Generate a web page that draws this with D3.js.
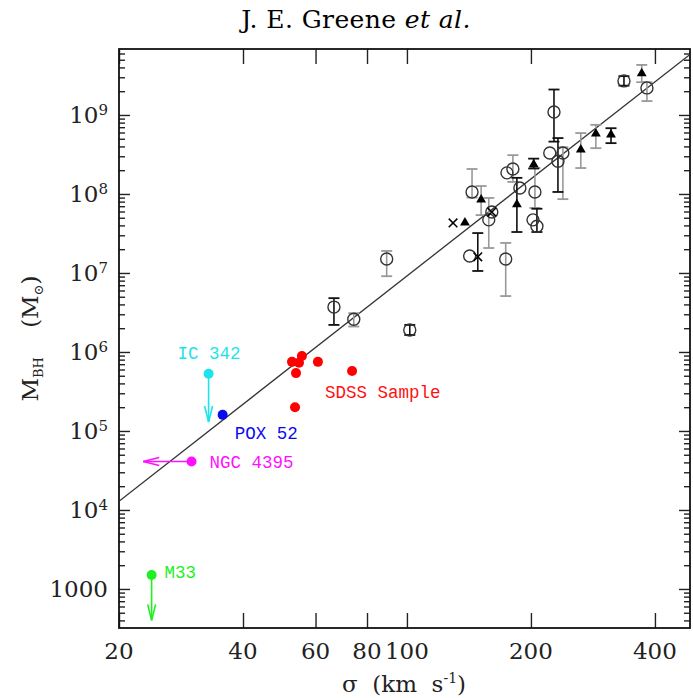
<!DOCTYPE html>
<html>
<head>
<meta charset="utf-8">
<title>M-sigma</title>
<script src="https://d3js.org/d3.v7.min.js"></script>
<style>
  body { margin: 0; background: #fff; }
  text { font-family: "DejaVu Serif", serif; }
  .lab { font-family: "Liberation Mono", monospace; font-size: 17.5px; }
</style>
</head>
<body>
<script>
// ---- data ----
// open circles
var openSigma = [66.5, 74.3, 89.3, 101.6, 142, 173.7, 158, 160.7, 143.9, 174.9, 180.8, 188, 204.5, 202.3, 206.8, 227.5, 222.2, 239.1, 232.6, 336.4, 382.5];
var openMass  = [3.7e6, 2.6e6, 1.5e7, 1.9e6, 1.64e7, 1.5e7, 4.7e7, 5.9e7, 1.06e8, 1.85e8, 2.07e8, 1.19e8, 1.06e8, 4.7e7, 3.9e7, 1.09e9, 3.3e8, 3.3e8, 2.6e8, 2.7e9, 2.2e9];
var openLo    = [2.2e6, 2.1e6, 9.1e6, 1.64e6, null, 5.1e6, 2.07e7, null, 9.0e7, null, 1.42e8, null, 6.65e7, null, 3.3e7, 4.6e8, null, 8.6e7, 1.06e8, 2.35e9, 1.5e9];
var openHi    = [4.8e6, 3.1e6, 1.9e7, 2.2e6, null, 2.4e7, 8.9e7, null, 2.07e8, null, 3.1e8, null, 2.13e8, null, 6.5e7, 2.1e9, null, 3.9e8, 5.1e8, 3.1e9, 2.6e9];
var openSrc   = ["a","b","b","a",null,"b","b",null,"b",null,"b",null,"b",null,"a","a",null,"b","a","a","b"];

// filled triangles
var triSigma = [138.3, 151.4, 203.1, 184.9, 264.3, 287.5, 312.9, 371.5];
var triMass  = [4.4e7, 8.6e7, 2.4e8, 7.5e7, 3.7e8, 5.9e8, 5.7e8, 3.4e9];
var triLo    = [null, 5.4e7, 2.1e8, 3.3e7, 2.13e8, 3.8e8, 4.4e8, 2.6e9];
var triHi    = [null, 1.26e8, 2.8e8, 1.6e8, 5.9e8, 7.5e8, 6.8e8, 4.3e9];
var triSrc   = [null, "b", "a", "a", "b", "b", "a", "b"];

// crosses
var crossSigma = [129.4, 148.6, 160.7];
var crossMass  = [4.3e7, 1.6e7, 5.9e7];
var crossLo    = [null, 1.06e7, null];
var crossHi    = [null, 3.2e7, null];

// SDSS sample
var sdssSigma = [52.6, 55.6, 54.7, 53.8, 60.8, 73.6, 53.5];
var sdssMass  = [7.5e5, 8.9e5, 7.3e5, 5.4e5, 7.5e5, 5.75e5, 2.0e5];

// named objects (upper limits)
var objNames = ["IC 342", "POX 52", "NGC 4395", "M33"];
var objSigma = [33, 35.7, 30, 24];
var objMass  = [5.3e5, 1.6e5, 4.1e4, 1500];
var objLimit = ["mass", null, "sigma", "mass"];
var objLimitTo = [1.3e5, null, 22.9, 400];

// fit: log M = a + b log(sigma/200)
var fitA = 8.19, fitB = 4.08;

var xTicks = [20, 40, 60, 80, 100, 200, 400];
var yTicks = [1000, 1e4, 1e5, 1e6, 1e7, 1e8, 1e9];

// ---- drawing ----
var W = 693, H = 698;
var L = 119, R = 690, T = 49, B = 628;

var svg = d3.select('body').append('svg')
  .attr('width', W).attr('height', H);

var x = d3.scaleLog().domain([20, 486.6]).range([L, R]);
var y = d3.scaleLog().domain([320.6, 6.84e9]).range([B, T]);

var errColor = {a: '#111', b: '#999'};
var objColor = ['#1fe3ea', '#0a0aee', '#ff10ff', '#1ff01f'];

// title
var title = svg.append('text').attr('x', 356).attr('y', 28)
  .attr('text-anchor', 'middle').style('font-size', '25px').style('letter-spacing', '0.4px');
title.append('tspan').text('J. E. Greene ');
title.append('tspan').style('font-style', 'italic').text('et al.');

// minor y ticks
var yMinor = [];
for (var e = 2; e <= 9; e++) {
  for (var m = 1; m < 10; m++) {
    var v = m * Math.pow(10, e);
    if (m > 1 && v > y.domain()[0] && v < y.domain()[1]) yMinor.push(v);
  }
}

var axes = svg.append('g');
axes.append('g').attr('transform', 'translate(' + L + ',0)')
  .call(d3.axisRight(y).tickValues(yMinor).tickSize(6).tickFormat(''));
axes.append('g').attr('transform', 'translate(' + R + ',0)')
  .call(d3.axisLeft(y).tickValues(yMinor).tickSize(6).tickFormat(''));
axes.append('g').attr('transform', 'translate(' + L + ',0)')
  .call(d3.axisRight(y).tickValues(yTicks).tickSize(11).tickFormat(''));
axes.append('g').attr('transform', 'translate(' + R + ',0)')
  .call(d3.axisLeft(y).tickValues(yTicks).tickSize(11).tickFormat(''));
axes.append('g').attr('transform', 'translate(0,' + B + ')')
  .call(d3.axisTop(x).tickValues(xTicks).tickSize(15).tickFormat(''));
axes.append('g').attr('transform', 'translate(0,' + T + ')')
  .call(d3.axisBottom(x).tickValues(xTicks).tickSize(15).tickFormat(''));
axes.selectAll('.domain').remove();
axes.selectAll('.tick line').attr('stroke', '#222').attr('stroke-width', 1.4);

svg.append('rect').attr('x', L).attr('y', T).attr('width', R - L).attr('height', B - T)
  .attr('fill', 'none').attr('stroke', '#111').attr('stroke-width', 1.8);

// tick labels
svg.append('g').selectAll('text').data(xTicks).enter().append('text')
  .attr('x', function(d) { return x(d); }).attr('y', 659)
  .attr('text-anchor', 'middle').style('font-size', '23px').attr('fill', '#222')
  .text(function(d) { return d; });

var yl = svg.append('g').selectAll('text').data(yTicks).enter().append('text')
  .attr('x', 108).attr('y', function(d) { return y(d) + 8; })
  .attr('text-anchor', 'end').style('font-size', '23px').attr('fill', '#222');
yl.each(function(d) {
  var t = d3.select(this);
  var k = Math.round(Math.log10(d));
  if (k <= 3) { t.text(d); return; }
  t.append('tspan').text('10');
  t.append('tspan').attr('dy', -8).style('font-size', '15px').text(k);
});

// axis titles
var xt = svg.append('text').attr('x', 404).attr('y', 692)
  .attr('text-anchor', 'middle').style('font-size', '23px').attr('fill', '#222')
  .attr('xml:space', 'preserve');
xt.append('tspan').text('\u03c3  (km  s');
xt.append('tspan').attr('dy', -9).style('font-size', '14px').text('-1');
xt.append('tspan').attr('dy', 9).text(')');

var ytl = svg.append('text').attr('transform', 'translate(38,' + ((T + B) / 2) + ') rotate(-90)')
  .attr('text-anchor', 'middle').style('font-size', '23px').attr('fill', '#222')
  .attr('xml:space', 'preserve');
ytl.append('tspan').text('M');
ytl.append('tspan').attr('dy', 5).style('font-size', '13px').text('BH');
ytl.append('tspan').attr('dy', -5).text('    (M');
ytl.append('tspan').attr('dy', 5).style('font-size', '13px').text('\u2299');
ytl.append('tspan').attr('dy', -5).text(')');

// plot area
var plot = svg.append('g');
svg.append('clipPath').attr('id', 'clip').append('rect')
  .attr('x', L).attr('y', T).attr('width', R - L).attr('height', B - T);

// fit line
var fitM = function(s) { return Math.pow(10, fitA + fitB * Math.log10(s / 200)); };
plot.append('line').attr('clip-path', 'url(#clip)')
  .attr('x1', x(20)).attr('y1', y(fitM(20)))
  .attr('x2', x(486.6)).attr('y2', y(fitM(486.6)))
  .attr('stroke', '#333').attr('stroke-width', 1.3);

function errBars(sig, lo, hi, src) {
  var idx = d3.range(sig.length).filter(function(i) { return lo[i] != null; });
  var g = plot.append('g');
  idx.forEach(function(i) {
    var c = errColor[src ? src[i] : 'a'];
    var px = x(sig[i]);
    g.append('line').attr('x1', px).attr('x2', px).attr('y1', y(lo[i])).attr('y2', y(hi[i]))
      .attr('stroke', c).attr('stroke-width', 1.6);
    [lo[i], hi[i]].forEach(function(v) {
      g.append('line').attr('x1', px - 5.5).attr('x2', px + 5.5).attr('y1', y(v)).attr('y2', y(v))
        .attr('stroke', c).attr('stroke-width', 1.8);
    });
  });
}
errBars(openSigma, openLo, openHi, openSrc);
errBars(triSigma, triLo, triHi, triSrc);
errBars(crossSigma, crossLo, crossHi, null);

plot.append('g').selectAll('circle').data(d3.range(openSigma.length)).enter().append('circle')
  .attr('cx', function(i) { return x(openSigma[i]); })
  .attr('cy', function(i) { return y(openMass[i]); })
  .attr('r', 6).attr('fill', 'none').attr('stroke', '#333').attr('stroke-width', 1.4);

plot.append('g').selectAll('path').data(d3.range(triSigma.length)).enter().append('path')
  .attr('d', d3.symbol().type(d3.symbolTriangle).size(42))
  .attr('transform', function(i) { return 'translate(' + x(triSigma[i]) + ',' + (y(triMass[i]) + 0.5) + ')'; })
  .attr('fill', '#000');

plot.append('g').selectAll('path').data(d3.range(crossSigma.length)).enter().append('path')
  .attr('d', d3.symbol().type(d3.symbolX).size(50))
  .attr('transform', function(i) { return 'translate(' + x(crossSigma[i]) + ',' + y(crossMass[i]) + ')'; })
  .attr('fill', 'none').attr('stroke', '#000').attr('stroke-width', 1.5);

// SDSS
plot.append('g').selectAll('circle').data(d3.range(sdssSigma.length)).enter().append('circle')
  .attr('cx', function(i) { return x(sdssSigma[i]); })
  .attr('cy', function(i) { return y(sdssMass[i]); })
  .attr('r', 5).attr('fill', '#ff0000');
plot.append('text').attr('class', 'lab').attr('fill', '#ff1010')
  .attr('x', x(sdssSigma[5]) - 27).attr('y', y(sdssMass[5]) + 27)
  .text('SDSS Sample');

// named objects
var labOff = [[-31, -15], [12, 24], [18, 6], [13, 3]];
objNames.forEach(function(nm, i) {
  var c = objColor[i];
  var px = x(objSigma[i]), py = y(objMass[i]);
  var g = plot.append('g');
  if (objLimit[i] === 'mass') {
    var ty = y(objLimitTo[i]);
    g.append('line').attr('x1', px).attr('x2', px).attr('y1', py).attr('y2', ty)
      .attr('stroke', c).attr('stroke-width', 1.6);
    g.append('path').attr('d', 'M' + (px - 4) + ',' + (ty - 16) + 'L' + px + ',' + ty + 'L' + (px + 4) + ',' + (ty - 16))
      .attr('fill', 'none').attr('stroke', c).attr('stroke-width', 1.6);
  } else if (objLimit[i] === 'sigma') {
    var tx = x(objLimitTo[i]);
    g.append('line').attr('x1', px).attr('x2', tx).attr('y1', py).attr('y2', py)
      .attr('stroke', c).attr('stroke-width', 1.6);
    g.append('path').attr('d', 'M' + (tx + 16) + ',' + (py - 4) + 'L' + tx + ',' + py + 'L' + (tx + 16) + ',' + (py + 4))
      .attr('fill', 'none').attr('stroke', c).attr('stroke-width', 1.6);
  }
  g.append('circle').attr('cx', px).attr('cy', py).attr('r', 5).attr('fill', c);
  g.append('text').attr('class', 'lab').attr('fill', c)
    .attr('x', px + labOff[i][0]).attr('y', py + labOff[i][1])
    .text(nm);
});
</script>
</body>
</html>
